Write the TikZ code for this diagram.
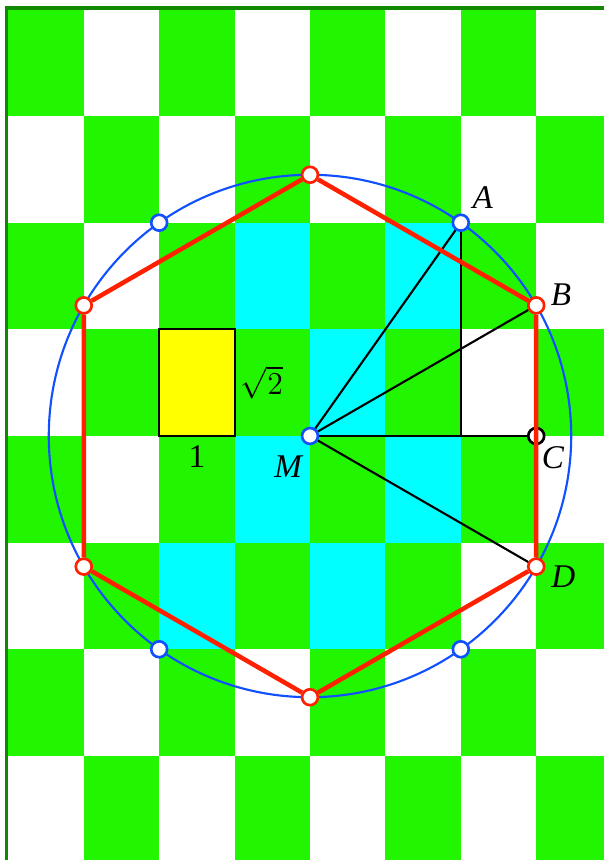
\documentclass[tikz,border=0pt]{standalone}
\usepackage{fontspec}
\setmainfont{Liberation Serif}
\definecolor{board}{RGB}{34,245,0}
\definecolor{frame}{RGB}{17,136,0}
\definecolor{hexred}{RGB}{255,32,0}
\definecolor{ringblue}{RGB}{16,80,255}
\definecolor{aqua}{RGB}{0,255,255}
\definecolor{cellyellow}{RGB}{255,255,0}
\tikzset{
  pt/.style={circle,draw,fill=white,line width=1pt,inner sep=0pt,minimum size=6pt},
  lbl/.style={font=\fontsize{12.5}{15}\selectfont},
  ptlabel/.style={font=\fontsize{12.5}{15}\selectfont\itshape},
}
\begin{document}
\begin{tikzpicture}
\useasboundingbox (-4.111,-5.623) rectangle (3.899,5.782);
\clip (-4.111,-5.623) rectangle (3.899,5.782);
% board
\foreach \i in {0,...,7}
  \foreach \j in {0,...,7}{
    \pgfmathparse{int(mod(\i+\j,2))}
    \ifnum\pgfmathresult=1
      \fill[board] ({\i-4},{(\j-4)*sqrt(2)}) rectangle ++(1,{sqrt(2)});
    \fi
  }
\foreach \i/\j in {3/5,5/5,4/4,3/3,5/3,2/2,4/2}
  \fill[aqua] ({\i-4},{(\j-4)*sqrt(2)}) rectangle ++(1,{sqrt(2)});
\draw[frame,line width=1.2pt] (-4.02,-6) -- (-4.02,{4*sqrt(2)+0.02}) -- (5,{4*sqrt(2)+0.02});
% unit cell
\draw[fill=cellyellow,line width=0.8pt] (-2,0) rectangle (-1,{sqrt(2)});
\node[lbl,right] (r2) at (-1.04,{sqrt(2)/2}) {$\sqrt{2}$};
\node[lbl,below] (one) at (-1.5,0) {1};
% circle
\coordinate (O) at (0,0);
\draw[ringblue,line width=0.8pt] (O) circle ({2*sqrt(3)});
% points
\node[pt,draw=ringblue] (M) at (0,0) {};
\node[pt,draw=ringblue] (A) at (2,{2*sqrt(2)}) {};
\node[pt,draw=ringblue] (A2) at (-2,{2*sqrt(2)}) {};
\node[pt,draw=ringblue] (A3) at (-2,{-2*sqrt(2)}) {};
\node[pt,draw=ringblue] (A4) at (2,{-2*sqrt(2)}) {};
\node[pt,draw=black] (C) at (3,0) {};
\coordinate (F) at (2,0);
\node[pt,draw=hexred] (H1) at (0,{2*sqrt(3)}) {};
\node[pt,draw=hexred] (B) at (3,{sqrt(3)}) {};
\node[pt,draw=hexred] (D) at (3,{-sqrt(3)}) {};
\node[pt,draw=hexred] (H4) at (0,{-2*sqrt(3)}) {};
\node[pt,draw=hexred] (H5) at (-3,{-sqrt(3)}) {};
\node[pt,draw=hexred] (H6) at (-3,{sqrt(3)}) {};
% lines
\draw[line width=0.8pt] (M) -- (A);
\draw[line width=0.8pt] (M) -- (B);
\draw[line width=0.8pt] (M) -- (C);
\draw[line width=0.8pt] (M) -- (D);
\draw[line width=0.8pt] (A) -- (F);
\draw[hexred,line width=1.7pt] (H1) -- (B) -- (D) -- (H4) -- (H5) -- (H6) -- (H1);
% labels
\node[ptlabel] (lA) at (2.29,3.16) {A};
\node[ptlabel] (lB) at (3.33,1.87) {B};
\node[ptlabel] (lC) at (3.22,-0.29) {C};
\node[ptlabel] (lD) at (3.36,-1.87) {D};
\node[ptlabel] (lM) at (-0.29,-0.40) {M};
\end{tikzpicture}
\end{document}
